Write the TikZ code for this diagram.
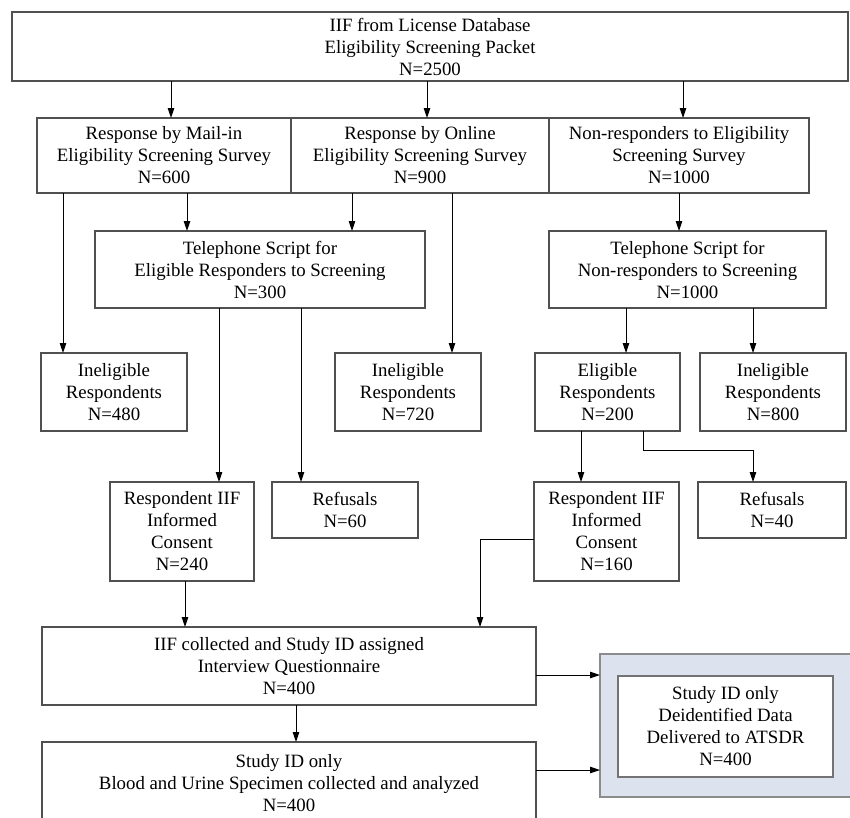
\documentclass[tikz,border=0pt]{standalone}
\usepackage{fontspec}
\setmainfont{Liberation Serif}
\usetikzlibrary{arrows.meta}
\definecolor{boxline}{HTML}{505050}
\definecolor{paleblue}{HTML}{DCE3EE}
\begin{document}
\begin{tikzpicture}[x=1pt,y=-1pt,semithick,align=center,
  every node/.style={inner sep=1,outer sep=0,font=\fontsize{18.8}{22}\selectfont},
  box/.style={draw=boxline,line width=1.1pt,fill=white},
  arr/.style={-{Triangle[length=10pt,width=6.5pt]},line width=1pt}]
	\useasboundingbox (0,0) rectangle (850,817);
	\node[box,minimum width=836,minimum height=69] (top) at (430,46.5) {IIF from License Database\\Eligibility Screening Packet\\N=2500};
	\node[box,minimum width=254,minimum height=75] (mail) at (164,155.5) {Response by Mail-in\\Eligibility Screening Survey\\N=600};
	\node[box,minimum width=258,minimum height=75] (online) at (420,155.5) {Response by Online\\Eligibility Screening Survey\\N=900};
	\node[box,minimum width=260,minimum height=75] (nonresp) at (679,155.5) {Non-responders to Eligibility\\Screening Survey\\N=1000};
	\node[box,minimum width=330,minimum height=77] (tel1) at (260,269.5) {Telephone Script for\\Eligible Responders to Screening\\N=300};
	\node[box,minimum width=277,minimum height=77] (tel2) at (687.5,269.5) {Telephone Script for\\Non-responders to Screening\\N=1000};
	\node[box,minimum width=146,minimum height=78] (inel1) at (114,392) {Ineligible\\Respondents\\N=480};
	\node[box,minimum width=146,minimum height=78] (inel2) at (408,392) {Ineligible\\Respondents\\N=720};
	\node[box,minimum width=145,minimum height=78] (elig) at (607.5,392) {Eligible\\Respondents\\N=200};
	\node[box,minimum width=146,minimum height=78] (inel3) at (773,392) {Ineligible\\Respondents\\N=800};
	\node[box,minimum width=144,minimum height=99] (cons1) at (182,531.5) {Respondent IIF\\Informed\\Consent\\N=240};
	\node[box,minimum width=146,minimum height=56] (ref1) at (345,510) {Refusals\\N=60};
	\node[box,minimum width=145,minimum height=99] (cons2) at (606.5,531.5) {Respondent IIF\\Informed\\Consent\\N=160};
	\node[box,minimum width=148,minimum height=56] (ref2) at (772,510) {Refusals\\N=40};
	\node[box,minimum width=494,minimum height=78] (coll) at (289,666) {IIF collected and Study ID assigned\\Interview Questionnaire\\N=400};
	\node[box,minimum width=494,minimum height=82] (blood) at (289,783) {Study ID only\\Blood and Urine Specimen collected and analyzed\\N=400};
	\node[draw=black!45,line width=1.1pt,fill=paleblue,minimum width=270,minimum height=143] (atsdr) at (735,725.5) {};
	\node[box,draw=black!55,minimum width=215,minimum height=101] (data) at (725.5,726.5) {Study ID only\\Deidentified Data\\Delivered to ATSDR\\N=400};
	\draw[arr] ([xshift=7pt]mail.north |- top.south) -- ([xshift=7pt]mail.north);
	\draw[arr] ([xshift=7pt]online.north |- top.south) -- ([xshift=7pt]online.north);
	\draw[arr] ([xshift=4pt]nonresp.north |- top.south) -- ([xshift=4pt]nonresp.north);
	\draw[arr] ([xshift=26pt]mail.south west) -- ([xshift=26pt]mail.south west |- inel1.north);
	\draw[arr] ([xshift=150pt]mail.south west) -- ([xshift=150pt]mail.south west |- tel1.north);
	\draw[arr] ([xshift=61pt]online.south west) -- ([xshift=61pt]online.south west |- tel1.north);
	\draw[arr] ([xshift=161pt]online.south west) -- ([xshift=161pt]online.south west |- inel2.north);
	\draw[arr] (nonresp.south) -- (nonresp.south |- tel2.north);
	\draw[arr] ([xshift=77pt]tel2.south west) -- ([xshift=77pt]tel2.south west |- elig.north);
	\draw[arr] ([xshift=204pt]tel2.south west) -- ([xshift=204pt]tel2.south west |- inel3.north);
	\draw[arr] ([xshift=124pt]tel1.south west) -- ([xshift=124pt]tel1.south west |- cons1.north);
	\draw[arr] ([xshift=206pt]tel1.south west) -- ([xshift=206pt]tel1.south west |- ref1.north);
	\draw[arr] ([xshift=46pt]elig.south west) -- ([xshift=46pt]elig.south west |- cons2.north);
	\draw[arr] ([xshift=108pt]elig.south west) -- ++(0,19) -| ([xshift=-19pt]ref2.north);
	\draw[arr] ([yshift=-7.5pt]cons2.west) -| ([xshift=438pt]coll.north west);
	\draw[arr] ([xshift=3pt]cons1.south) -- ([xshift=3pt]cons1.south |- coll.north);
	\draw[arr] ([xshift=7pt]coll.south) -- ([xshift=7pt]coll.south |- blood.north);
	\draw[arr] ([yshift=-9pt]coll.east) -- ([yshift=-9pt]coll.east -| atsdr.west);
	\draw[arr] ([yshift=13pt]blood.east) -- ([yshift=13pt]blood.east -| atsdr.west);
\end{tikzpicture}
\end{document}
